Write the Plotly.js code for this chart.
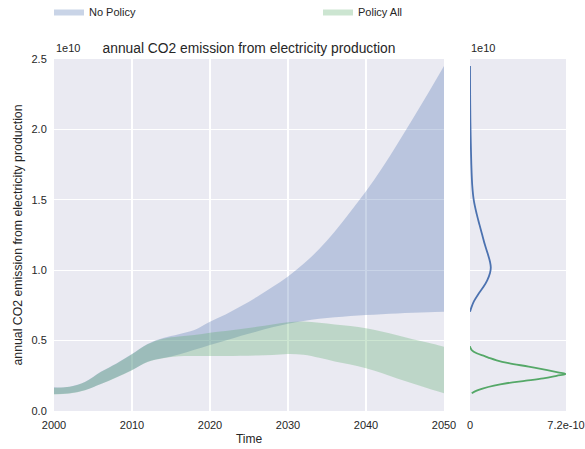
<!DOCTYPE html>
<html>
<head>
<meta charset="utf-8">
<script src="https://cdn.plot.ly/plotly-3.0.1.min.js"></script>
<style>html,body{margin:0;padding:0;background:#fff;}#chart{width:585px;height:449px;}</style>
</head>
<body>
<div id="chart"></div>
<script>
// ---- data (emissions in units of 1e9, density in units of 1e-10) ----
const years = [2000,2002,2004,2006,2008,2010,2012,2014,2016,2018,2020,2022,2024,2026,2028,2030,2032,2034,2036,2038,2040,2042,2044,2046,2048,2050];
const noPolicyMax = [1.68,1.73,2.08,2.79,3.38,4.05,4.76,5.18,5.45,5.75,6.34,6.85,7.45,8.1,8.8,9.55,10.45,11.5,12.75,14.15,15.6,17.2,18.95,20.75,22.6,24.5];
const noPolicyMin = [1.2,1.26,1.49,1.92,2.39,2.91,3.5,3.76,4.02,4.35,4.69,5.0,5.35,5.65,5.95,6.2,6.4,6.55,6.65,6.75,6.82,6.88,6.93,6.98,7.02,7.05];
const policyAllMax = [1.66,1.72,2.06,2.77,3.36,4.03,4.74,5.14,5.3,5.4,5.56,5.68,5.82,5.98,6.15,6.3,6.35,6.27,6.15,6.03,5.87,5.65,5.38,5.1,4.85,4.57];
const policyAllMin = [1.18,1.25,1.48,1.91,2.38,2.9,3.48,3.74,3.88,3.9,3.9,3.9,3.92,3.95,3.98,4.05,4.0,3.78,3.52,3.3,3.03,2.7,2.3,1.95,1.6,1.26];

const kdeNoPolicyY = [7.05,7.4,7.8,8.3,8.8,9.3,9.8,10.2,10.6,11.2,11.8,12.5,13.2,14.0,15.0,16.0,17.5,19.0,20.5,22.5,24.5];
const kdeNoPolicyD = [0,0.12,0.3,0.62,1.0,1.3,1.5,1.56,1.5,1.32,1.12,0.92,0.72,0.5,0.28,0.17,0.1,0.06,0.03,0.01,0];
const kdePolicyAllY = [4.6,4.45,4.3,4.1,3.9,3.75,3.6,3.4,3.15,2.9,2.75,2.63,2.5,2.32,2.15,1.97,1.8,1.61,1.45,1.26];
const kdePolicyAllD = [0,0.05,0.15,0.5,1.1,1.5,2.0,2.9,4.4,5.8,6.6,7.18,6.5,5.5,4.2,2.75,1.8,1.0,0.5,0.13];

const yTickVals = [0,0.5,1.0,1.5,2.0,2.5];
const yTickText = ['0.0','0.5','1.0','1.5','2.0','2.5'];
const xTickVals = [2000,2010,2020,2030,2040,2050];
const x2TickVals = [0,7.2];
const x2TickText = ['0','7.2e-10'];

const E = 1e9, D = 1e-10;
const sc = (a,f)=>a.map(v=>v*f);

const blue = '#4C72B0', green = '#55A868';
const traces = [
  {x: years, y: sc(noPolicyMin,E), type:'scatter', mode:'lines', line:{width:0, color:blue, shape:'spline'}, showlegend:false, hoverinfo:'skip', xaxis:'x', yaxis:'y'},
  {x: years, y: sc(noPolicyMax,E), type:'scatter', mode:'lines', line:{width:0, color:blue, shape:'spline'}, fill:'tonexty', fillcolor:'rgba(76,114,176,0.3)', name:'No Policy', legend:'legend', xaxis:'x', yaxis:'y'},
  {x: years, y: sc(policyAllMin,E), type:'scatter', mode:'lines', line:{width:0, color:green, shape:'spline'}, showlegend:false, hoverinfo:'skip', xaxis:'x', yaxis:'y'},
  {x: years, y: sc(policyAllMax,E), type:'scatter', mode:'lines', line:{width:0, color:green, shape:'spline'}, fill:'tonexty', fillcolor:'rgba(85,168,104,0.3)', name:'Policy All', legend:'legend2', xaxis:'x', yaxis:'y'},
  {x: sc(kdeNoPolicyD,D), y: sc(kdeNoPolicyY,E), type:'scatter', mode:'lines', line:{width:1.8, color:blue, shape:'spline'}, showlegend:false, xaxis:'x2', yaxis:'y2'},
  {x: sc(kdePolicyAllD,D), y: sc(kdePolicyAllY,E), type:'scatter', mode:'lines', line:{width:1.8, color:green, shape:'spline'}, showlegend:false, xaxis:'x2', yaxis:'y2'}
];

const W = 585, H = 449;
const px = v => v / W, py = v => 1 - v / H;
const txt = '#262626';
const font = {family:'Liberation Sans, Arial, sans-serif', size:11, color:txt};
const legendBase = {orientation:'h', xanchor:'left', yanchor:'top', font:{size:11, color:txt}, bgcolor:'rgba(0,0,0,0)', traceorder:'normal'};

const layout = {
  width: W, height: H,
  margin: {l:0, r:0, t:0, b:0, autoexpand:false},
  paper_bgcolor: '#ffffff',
  plot_bgcolor: '#EAEAF2',
  font: font,
  showlegend: true,
  legend: Object.assign({x: px(49), y: py(-3)}, legendBase),
  legend2: Object.assign({x: px(318), y: py(-3)}, legendBase),
  title: {text:'annual CO2 emission from electricity production', x: px(249), xanchor:'center', y: py(48), yanchor:'middle', font:{size:13.8, color:txt}},
  xaxis: {domain:[px(54), px(444)], range:[2000,2050], tickvals: xTickVals, ticktext: xTickVals.map(String), showgrid:true, gridcolor:'#ffffff', gridwidth:1.2, zeroline:false, showline:false, ticks:'outside', ticklen:4, tickcolor:'rgba(0,0,0,0)', tickfont:{size:11, color:txt}, title:{text:'Time', font:{size:12, color:txt}, standoff:4}, automargin:false, anchor:'y'},
  yaxis: {domain:[py(411), py(59)], range:[0,2.5e10], tickvals: sc(yTickVals,1e10), ticktext: yTickText, showgrid:true, gridcolor:'#ffffff', gridwidth:1.2, zeroline:false, showline:false, ticks:'outside', ticklen:4, tickcolor:'rgba(0,0,0,0)', tickfont:{size:11, color:txt}, title:{text:'annual CO2 emission from electricity production', font:{size:12.3, color:txt}, standoff:6}, automargin:false, anchor:'x'},
  xaxis2: {domain:[px(470), px(566)], range:[0,7.2e-10], tickvals: sc(x2TickVals,D), ticktext: x2TickText, showgrid:false, zeroline:false, showline:false, ticks:'outside', ticklen:4, tickcolor:'rgba(0,0,0,0)', tickfont:{size:11, color:txt}, automargin:false, anchor:'y2'},
  yaxis2: {domain:[py(411), py(59)], range:[0,2.5e10], tickvals: sc(yTickVals,1e10), showticklabels:false, showgrid:true, gridcolor:'#ffffff', gridwidth:1.2, zeroline:false, showline:false, automargin:false, anchor:'x2'},
  annotations: [
    {text:'1e10', xref:'paper', yref:'paper', x: px(54), y: py(48), xanchor:'left', yanchor:'middle', showarrow:false, font:{size:11, color:txt}},
    {text:'1e10', xref:'paper', yref:'paper', x: px(469), y: py(48), xanchor:'left', yanchor:'middle', showarrow:false, font:{size:11, color:txt}}
  ]
};

Plotly.newPlot('chart', traces, layout, {displayModeBar:false, staticPlot:true});
</script>
</body>
</html>
